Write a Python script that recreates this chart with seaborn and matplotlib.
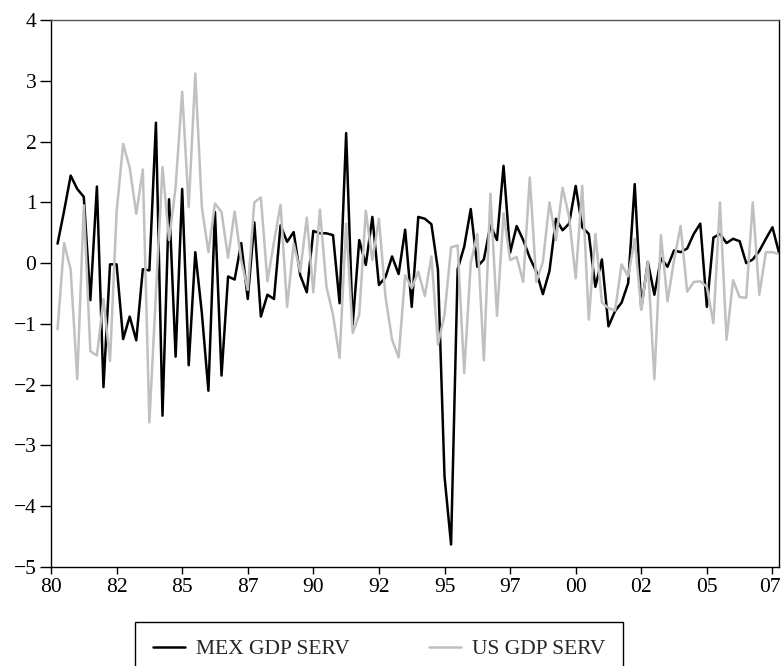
import numpy as np
import pandas as pd
import matplotlib
matplotlib.use("Agg")
import matplotlib.pyplot as plt
import matplotlib.transforms as mtransforms
import seaborn as sns

# quarterly growth, 1980Q2 - 2007Q4
quarters = pd.period_range("1980Q2", "2007Q4", freq="Q")

mex_gdp_serv = [
    0.32, 0.86, 1.44, 1.22, 1.09, -0.61, 1.26, -2.04, -0.02, -0.02,
    -1.25, -0.88, -1.27, -0.10, -0.12, 2.31, -2.51, 1.05, -1.54, 1.22,
    -1.68, 0.18, -0.82, -2.10, 0.84, -1.85, -0.22, -0.27, 0.33, -0.59,
    0.67, -0.88, -0.52, -0.59, 0.62, 0.35, 0.51, -0.20, -0.48, 0.53,
    0.49, 0.49, 0.46, -0.66, 2.14, -1.01, 0.38, -0.03, 0.76, -0.36,
    -0.23, 0.11, -0.18, 0.55, -0.72, 0.76, 0.73, 0.64, -0.11, -3.51,
    -4.63, -0.10, 0.27, 0.89, -0.06, 0.06, 0.62, 0.38, 1.60, 0.17,
    0.61, 0.38, 0.09, -0.14, -0.51, -0.13, 0.73, 0.54, 0.65, 1.27,
    0.59, 0.48, -0.39, 0.06, -1.04, -0.79, -0.65, -0.33, 1.30, -0.74,
    0.02, -0.52, 0.08, -0.06, 0.21, 0.18, 0.24, 0.48, 0.65, -0.72,
    0.42, 0.48, 0.33, 0.40, 0.36, 0.00, 0.06, 0.20, 0.40, 0.59,
    0.17,
]

us_gdp_serv = [
    -1.09, 0.33, -0.11, -1.91, 0.95, -1.45, -1.52, -0.59, -1.61, 0.84,
    1.96, 1.57, 0.81, 1.54, -2.62, -0.49, 1.58, 0.38, 1.25, 2.82,
    0.92, 3.12, 0.92, 0.18, 0.98, 0.84, 0.09, 0.85, 0.05, -0.44,
    1.00, 1.08, -0.30, 0.35, 0.96, -0.72, 0.32, -0.14, 0.75, -0.48,
    0.88, -0.39, -0.85, -1.56, 0.65, -1.15, -0.85, 0.86, 0.05, 0.73,
    -0.55, -1.26, -1.55, -0.20, -0.41, -0.14, -0.54, 0.11, -1.34, -0.85,
    0.26, 0.29, -1.81, 0.00, 0.48, -1.60, 1.14, -0.87, 0.82, 0.05,
    0.10, -0.31, 1.41, -0.31, 0.02, 1.00, 0.38, 1.24, 0.76, -0.25,
    1.27, -0.93, 0.48, -0.65, -0.74, -0.78, -0.02, -0.22, 0.40, -0.77,
    0.02, -1.91, 0.46, -0.63, 0.05, 0.61, -0.47, -0.31, -0.30, -0.39,
    -0.99, 1.00, -1.26, -0.28, -0.56, -0.57, 1.00, -0.52, 0.18, 0.18,
    0.15,
]

tick_labels = ["80", "82", "85", "87", "90", "92", "95", "97", "00", "02", "05", "07"]

sns.set_style("ticks")
plt.rcParams["font.family"] = ["Liberation Serif", "DejaVu Serif"]

# x position = quarters since 1980Q1
pos = [(q.year - 1980) * 4 + q.quarter - 1 for q in quarters]
df = pd.DataFrame({"pos": pos, "MEX GDP SERV": mex_gdp_serv, "US GDP SERV": us_gdp_serv})
df = df.melt(id_vars="pos", var_name="series", value_name="value")

fig = plt.figure(figsize=(7.81, 6.66), dpi=100)
ax = fig.add_axes([51 / 781, 1 - 567 / 666, (779 - 51) / 781, (567 - 20) / 666])

sns.lineplot(data=df, x="pos", y="value", hue="series",
             palette=["black", "#c0c0c0"], linewidth=1.8, ax=ax)

ax.set_xlim(0, 111)
ax.set_ylim(-5, 4)
ax.set_xticks(np.arange(0, 111, 10))
ax.set_xticklabels(tick_labels)
ax.set_yticks(np.arange(-5, 5, 1))
ax.set_xlabel("")
ax.set_ylabel("")
ax.tick_params(labelsize=15.5, direction="out", width=1, colors="black")
ax.tick_params(axis="x", length=5, pad=3)
ax.tick_params(axis="y", length=8, pad=2.5)

# nudge the last label so it stays inside the canvas
last = ax.get_xticklabels()[-1]
last.set_transform(last.get_transform() + mtransforms.ScaledTranslation(-3 / 100, 0, fig.dpi_scale_trans))

for s in ["left", "bottom", "right"]:
    ax.spines[s].set_visible(True)
    ax.spines[s].set_color("black")
    ax.spines[s].set_linewidth(1)
ax.spines["top"].set_visible(True)
ax.spines["top"].set_color("#555555")
ax.spines["top"].set_linewidth(1)

handles, labels = ax.get_legend_handles_labels()
ax.get_legend().remove()
leg = fig.legend(handles, labels, ncol=2, loc="upper center",
                 bbox_to_anchor=((133 + 625) / 2 / 781, 1 - 622 / 666),
                 frameon=True, fancybox=False, edgecolor="black", framealpha=1,
                 fontsize=15.5, handlelength=1.5, columnspacing=3.7,
                 borderpad=0.8, handletextpad=0.5, borderaxespad=0)
leg.get_frame().set_linewidth(1)

fig.savefig("out.png", dpi=100)
